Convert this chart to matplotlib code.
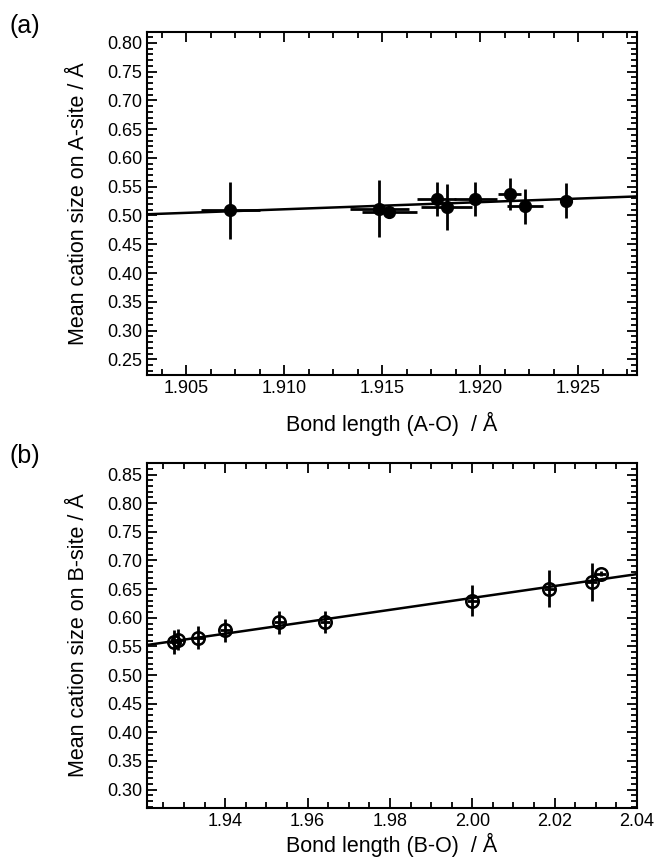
import numpy as np
import matplotlib
matplotlib.use('Agg')
import matplotlib.pyplot as plt
from matplotlib.ticker import MultipleLocator

plt.rcParams['font.family'] = ['Liberation Sans', 'DejaVu Sans']

# panel (a): A-site
a_x = [1.90725, 1.91486, 1.91537, 1.91779, 1.91829, 1.91975, 1.92150, 1.92228, 1.92438]
a_y = [0.509, 0.512, 0.506, 0.529, 0.515, 0.529, 0.537, 0.516, 0.526]
a_xerr = [0.0015, 0.0015, 0.0014, 0.0010, 0.0013, 0.0011, 0.0006, 0.0009, 0.0003]
a_yerr = [0.050, 0.050, 0.005, 0.030, 0.040, 0.030, 0.028, 0.030, 0.030]
a_fit = (1.24, 0.5047 - 1.24 * 1.9051)   # slope, intercept

# panel (b): B-site
b_x = [1.9276, 1.9286, 1.9335, 1.9400, 1.9531, 1.9642, 2.0000, 2.0187, 2.0290, 2.0312]
b_y = [0.557, 0.562, 0.565, 0.578, 0.592, 0.592, 0.630, 0.651, 0.663, 0.677]
b_xerr = [0.0013] * 10
b_yerr = [0.021, 0.019, 0.020, 0.020, 0.020, 0.019, 0.027, 0.033, 0.033, 0.004]
b_fit = (1.04, 0.553 - 1.04 * 1.9215)


def style(ax):
    ax.tick_params(which='both', direction='in', top=True, right=True, labelsize=13, width=1.3)
    ax.tick_params(which='major', length=7)
    ax.tick_params(which='minor', length=4)
    for s in ax.spines.values():
        s.set_linewidth(1.5)


fig = plt.figure(figsize=(6.58, 8.6), dpi=100)

ax1 = fig.add_axes([0.2234, 0.564, 0.7447, 0.399])
ax1.errorbar(a_x, a_y, xerr=a_xerr, yerr=a_yerr, fmt='o', color='black',
             markersize=8.5, elinewidth=2, capsize=0)
xx = np.array([1.903, 1.928])
ax1.plot(xx, a_fit[0] * xx + a_fit[1], color='black', lw=1.8)
ax1.set_xlim(1.903, 1.928)
ax1.set_ylim(0.223, 0.819)
ax1.xaxis.set_major_locator(MultipleLocator(0.005))
ax1.xaxis.set_minor_locator(MultipleLocator(0.00125))
ax1.yaxis.set_major_locator(MultipleLocator(0.05))
ax1.yaxis.set_minor_locator(MultipleLocator(0.01))
ax1.xaxis.set_major_formatter(matplotlib.ticker.FormatStrFormatter('%.3f'))
ax1.yaxis.set_major_formatter(matplotlib.ticker.FormatStrFormatter('%.2f'))
ax1.set_xlabel('Bond length (A-O)  / Å', fontsize=15.5, labelpad=11)
ax1.set_ylabel('Mean cation size on A-site / Å', fontsize=15.5, labelpad=13)
style(ax1)

ax2 = fig.add_axes([0.2234, 0.0605, 0.7447, 0.401])
ax2.errorbar(b_x, b_y, xerr=b_xerr, yerr=b_yerr, fmt='o', color='black',
             markerfacecolor='none', markeredgewidth=1.8, markersize=9,
             elinewidth=2, capsize=0)
xx = np.array([1.921, 2.04])
ax2.plot(xx, b_fit[0] * xx + b_fit[1], color='black', lw=1.8)
ax2.set_xlim(1.921, 2.04)
ax2.set_ylim(0.268, 0.87)
ax2.xaxis.set_major_locator(MultipleLocator(0.02))
ax2.xaxis.set_minor_locator(MultipleLocator(0.005))
ax2.yaxis.set_major_locator(MultipleLocator(0.05))
ax2.yaxis.set_minor_locator(MultipleLocator(0.01))
ax2.xaxis.set_major_formatter(matplotlib.ticker.FormatStrFormatter('%.2f'))
ax2.yaxis.set_major_formatter(matplotlib.ticker.FormatStrFormatter('%.2f'))
ax2.set_xlabel('Bond length (B-O)  / Å', fontsize=15.5, labelpad=2)
ax2.set_ylabel('Mean cation size on B-site / Å', fontsize=15.5, labelpad=13)
style(ax2)

fig.text(0.015, 0.962, '(a)', fontsize=18)
fig.text(0.015, 0.462, '(b)', fontsize=18)

fig.savefig('out.png', dpi=100)
